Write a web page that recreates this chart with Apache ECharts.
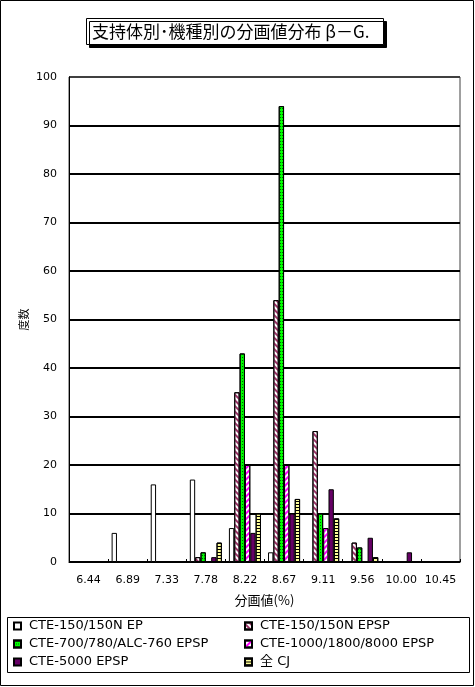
<!DOCTYPE html>
<html><head><meta charset="utf-8">
<script src="https://cdn.jsdelivr.net/npm/echarts@6/dist/echarts.min.js"></script>
<style>html,body{margin:0;padding:0;background:#fff}#c{width:475px;height:687px}</style>
</head><body><div id="c"></div>
<script>
const categories = ['6.44','6.89','7.33','7.78','8.22','8.67','9.11','9.56','10.00','10.45'];
const seriesNames = ['CTE-150/150N EP','CTE-150/150N EPSP','CTE-700/780/ALC-760 EPSP','CTE-1000/1800/8000 EPSP','CTE-5000 EPSP','全 CJ'];
const ep150 = [0,6,16,17,7,2,0,0,0,0];
const epsp150 = [0,0,0,1,35,54,27,4,0,0];
const epsp700 = [0,0,0,2,43,94,10,3,0,0];
const epsp1000 = [0,0,0,0,20,20,7,0,0,0];
const epsp5000 = [0,0,0,1,6,10,15,5,2,0];
const allCJ = [0,0,0,4,10,13,9,1,0,0];
const yTicks = [0,10,20,30,40,50,60,70,80,90,100];

const latin = '"DejaVu Sans","Noto Sans CJK JP",sans-serif';
const cjk = '"Noto Sans CJK JP",sans-serif';

const styles = [
  {color:'#ffffff', decal:null},
  {color:'#ffffff', decal:{symbol:'rect',symbolSize:1,color:'#993366',dashArrayX:[1,0],dashArrayY:[2,2],rotation:Math.PI/4}},
  {color:'#00ff00', decal:{symbol:'rect',symbolSize:1,color:'#006600',dashArrayX:[1,1],dashArrayY:[1,2],rotation:0}},
  {color:'#ffffff', decal:{symbol:'rect',symbolSize:1,color:'#ff00ff',dashArrayX:[1,0],dashArrayY:[2,2],rotation:-Math.PI/4}},
  {color:'#660066', decal:null},
  {color:'#ffff99', decal:{symbol:'rect',symbolSize:1,color:'#000000',dashArrayX:[1,0],dashArrayY:[1,2],rotation:0}}
];
const values = [ep150, epsp150, epsp700, epsp1000, epsp5000, allCJ];

const series = values.map((v,i)=>{
  const is = {color:styles[i].color, borderColor:'#000', borderWidth:1};
  if (styles[i].decal) is.decal = styles[i].decal;
  return {name:seriesNames[i], type:'bar', data:v.map(x=> x===0 ? '-' : x), barGap:'0%', barCategoryGap:'18%', itemStyle:is, emphasis:{disabled:true}, animation:false};
});

const gridColors = yTicks.map((t,i)=> i===yTicks.length-1 ? '#404040' : '#000');

const chart = echarts.init(document.getElementById('c'), null, {renderer:'canvas'});
chart.setOption({
  animation:false,
  backgroundColor:'#fff',
  title:{
    text:'支持体別･機種別の分画値分布 β－G.',
    left:86, top:18,
    padding:[4,14,4,6],
    backgroundColor:'#fff', borderColor:'#000', borderWidth:1,
    shadowColor:'#000', shadowBlur:0, shadowOffsetX:3, shadowOffsetY:3,
    textStyle:{fontFamily:cjk, fontSize:17, fontWeight:'normal', color:'#000', lineHeight:19}
  },
  grid:{left:69, right:15, top:77, bottom:125, show:true, borderColor:'#404040', borderWidth:1, backgroundColor:'#fff'},
  legend:[
    {data:[seriesNames[0],seriesNames[2],seriesNames[4]], orient:'vertical', left:13, top:619, padding:0,
     itemWidth:7, itemHeight:7, itemGap:4, icon:'rect', selectedMode:false,
     textStyle:{fontFamily:latin, fontSize:13, color:'#000', lineHeight:14, padding:[0,0,0,3]}},
    {data:[seriesNames[1],seriesNames[3],seriesNames[5]], orient:'vertical', left:244, top:619, padding:0,
     itemWidth:7, itemHeight:7, itemGap:4, icon:'rect', selectedMode:false,
     textStyle:{fontFamily:latin, fontSize:13, color:'#000', lineHeight:14, padding:[0,0,0,3]}}
  ],
  xAxis:{
    type:'category', data:categories, boundaryGap:true,
    name:'分画値(%)', nameLocation:'middle', nameGap:32, nameMoveOverlap:false,
    nameTextStyle:{fontFamily:cjk, fontSize:13, color:'#000'},
    axisLine:{lineStyle:{color:'#000', width:1}},
    axisTick:{show:true, inside:true, length:3, interval:0, lineStyle:{color:'#000'}},
    axisLabel:{fontFamily:latin, fontSize:11, color:'#000', margin:13, interval:0}
  },
  yAxis:{
    type:'value', min:0, max:100, interval:10,
    name:'度数', nameLocation:'middle', nameGap:40, nameRotate:90, nameMoveOverlap:false,
    nameTextStyle:{fontFamily:cjk, fontSize:11, color:'#000'},
    axisLine:{show:true, lineStyle:{color:'#000', width:1}},
    axisTick:{show:false},
    axisLabel:{fontFamily:latin, fontSize:11, color:'#000', margin:12},
    splitLine:{show:true, lineStyle:{color:gridColors, width:2}}
  },
  graphic:[
    {type:'rect', shape:{x:0.5,y:0.5,width:473,height:685}, style:{fill:null, stroke:'#000', lineWidth:1}, silent:true, z:100},
    {type:'rect', shape:{x:7.5,y:617.5,width:462,height:55}, style:{fill:null, stroke:'#000', lineWidth:1}, silent:true, z:100}
  ],
  series:series
});
</script></body></html>
